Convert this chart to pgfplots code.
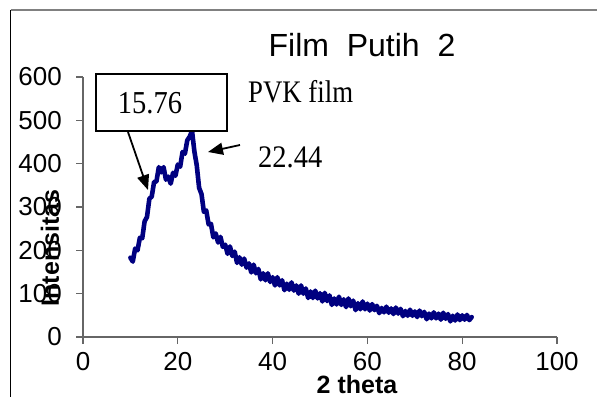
\documentclass[border=0pt]{standalone}
\usepackage{pgfplots}
\pgfplotsset{compat=1.18}
\usepackage{fontspec}
\setmainfont{Liberation Sans}
\newfontfamily\tnr{Liberation Serif}
\usetikzlibrary{arrows.meta}
\definecolor{navy}{RGB}{0,0,128}
\begin{document}
\begin{tikzpicture}[x=1pt,y=1pt]
\useasboundingbox (-83,-60) rectangle (514,337);
\begin{axis}[
  at={(0,0)}, anchor=south west,
  scale only axis, width=474pt, height=260pt,
  xmin=0, xmax=100, ymin=0, ymax=600,
  axis x line=bottom, axis y line=left,
  axis line style={-, black!60, line width=1.2pt},
  tick style={black!60, line width=1.2pt},
  tick align=outside, major tick length=7pt,
  xtick={0,20,...,100}, ytick={0,100,...,600},
  /pgf/number format/assume math mode=true,
  tick label style={font=\fontsize{26}{26}\selectfont},
  yticklabel style={anchor=east, inner sep=0pt, xshift=-14pt},
  xticklabel style={anchor=north, inner sep=0pt, yshift=-8pt},
  clip=false,
]
\addplot[navy, line width=4.6pt, line join=round, line cap=round] coordinates {
(10,183)(10.5,174)(11,204)(11.5,200)(12,229)(12.5,228)(13,267)(13.5,277)(14,319)(14.5,324)
(15,358)(15.5,359)(16,392)(16.5,380)(17,392)(17.5,363)(18,370)(18.5,354)(19,379)(19.5,372)
(20,398)(20.5,393)(21,427)(21.5,423)(22,454)(22.5,462)(23,476)(23.5,428)(24,396)(24.5,344)
(25,330)(25.5,289)(26,292)(26.5,260)(27,261)(27.5,230)(28,239)(28.5,218)(29,231)(29.5,208)
(30,213)(30.5,192)(31,209)(31.5,187)(32,197)(32.5,171)(33,184)(33.5,167)(34,181)(34.5,160)
(35,170)(35.5,149)(36,167)(36.5,147)(37,157)(37.5,133)(38,147)(38.5,131)(39,147)(39.5,127)
(40,138)(40.5,119)(41,138)(41.5,119)(42,131)(42.5,108)(43,123)(43.5,109)(44,126)(44.5,107)
(45,119)(45.5,100)(46,119)(46.5,100)(47,112)(47.5,90)(48,105)(48.5,90)(49,107)(49.5,89)
(50,101)(50.5,82)(51,102)(51.5,83)(52,96)(52.5,74)(53,89)(53.5,75)(54,93)(54.5,74)
(55,87)(55.5,69)(56,89)(56.5,71)(57,84)(57.5,62)(58,78)(58.5,64)(59,82)(59.5,64)
(60,77)(60.5,61)(61,76)(61.5,62)(62,72)(62.5,55)(63,67)(63.5,57)(64,70)(64.5,56)
(65,66)(65.5,53)(66,68)(66.5,54)(67,65)(67.5,48)(68,60)(68.5,49)(69,63)(69.5,49)
(70,59)(70.5,46)(71,61)(71.5,48)(72,58)(72.5,41)(73,54)(73.5,43)(74,57)(74.5,43)
(75,54)(75.5,40)(76,56)(76.5,42)(77,53)(77.5,36)(78,49)(78.5,38)(79,52)(79.5,39)
(80,50)(80.5,40)(81,51)(81.5,39)(82,46)
};
\end{axis}
% frame lines
\draw[gray, line width=2pt] (-72,327) -- (514,327);
\draw[black, line width=1pt] (-72,327) -- (-72,-60);
% title and labels
\node[anchor=base, inner sep=0pt, font=\fontsize{32}{32}\selectfont] at (279,280) {Film\ \ Putih\ \ 2};
\node[rotate=90, inner sep=0pt, font=\bfseries\fontsize{25}{25}\selectfont] at (-33,89) {Intensitas};
\node[anchor=base, inner sep=0pt, font=\bfseries\fontsize{25}{25}\selectfont] at (274,-56) {2 theta};
% annotations
\draw[black, line width=1.6pt, fill=white] (13,206) rectangle (144,263);
\node[inner sep=0pt, font=\tnr\fontsize{28.5}{28.5}\selectfont] at (67,234) {\scalebox{1}[1.12]{15.76}};
\draw[black, line width=1.8pt, -{Triangle[length=15pt,width=12pt]}] (45,205) -- (65,147);
\draw[black, line width=1.8pt, -{Triangle[length=15pt,width=12pt]}] (157,192) -- (125,185);
\node[anchor=base west, inner sep=0pt, font=\tnr\fontsize{28.5}{28.5}\selectfont] at (165,234) {\scalebox{0.94}[1.1]{PVK film}};
\node[anchor=base west, inner sep=0pt, font=\tnr\fontsize{28.5}{28.5}\selectfont] at (175,170) {\scalebox{1}[1.1]{22.44}};
\end{tikzpicture}
\end{document}
